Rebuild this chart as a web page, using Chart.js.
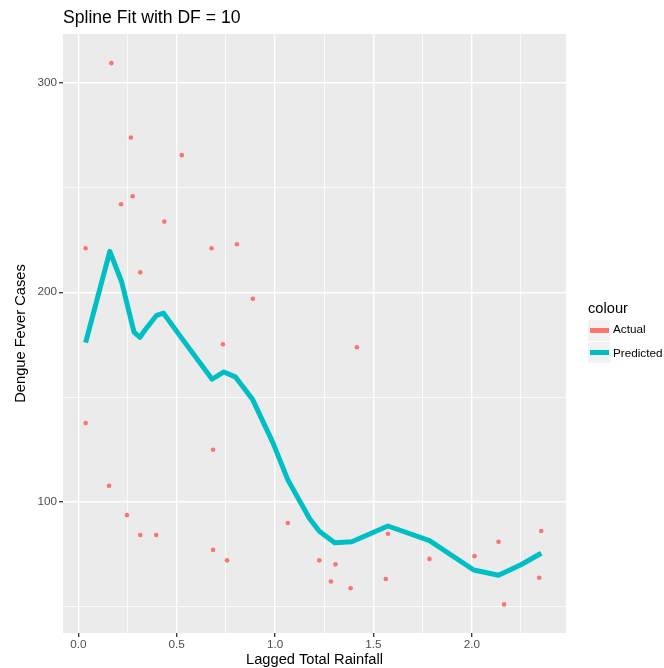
<!DOCTYPE html>
<html>
<head>
<meta charset="utf-8">
<script src="https://cdn.jsdelivr.net/npm/chart.js@4.4.1/dist/chart.umd.min.js"></script>
<style>
  html, body { margin: 0; padding: 0; background: #ffffff; }
  #wrap { position: relative; width: 664px; height: 668px; overflow: hidden; font-family: "Liberation Sans", Arial, sans-serif; }
  canvas { position: absolute; left: 0; top: 0; }
  .txt { position: absolute; white-space: nowrap; color: #000; }
  #title { left: 63px; top: 9px; font-size: 17.6px; line-height: 17.6px; }
  #legTitle { left: 588px; top: 300.6px; font-size: 14.67px; line-height: 14.67px; }
  .key { position: absolute; left: 588px; width: 22px; height: 21px; background: #F2F2F2; }
  .seg { position: absolute; left: 2px; width: 19px; height: 5px; top: 8px; }
  .lab { left: 613px; font-size: 11.73px; line-height: 11.73px; }
</style>
</head>
<body>
<div id="wrap">
  <canvas id="c" width="664" height="668"></canvas>
  <div class="txt" id="title">Spline Fit with DF = 10</div>
  <div class="txt" id="legTitle">colour</div>
  <div class="key" style="top:320px"><div class="seg" style="background:#F8766D"></div></div>
  <div class="key" style="top:342px"><div class="seg" style="background:#00BFC4"></div></div>
  <div class="txt lab" style="top:323.4px">Actual</div>
  <div class="txt lab" style="top:347.1px">Predicted</div>
</div>
<script>
// ---- data ----
const xActual = [0.168, 0.267, 0.526, 0.276, 0.217, 0.437, 0.037, 0.677, 0.806, 0.315, 0.887, 0.735, 0.037, 0.685, 0.156, 0.247, 0.315, 0.396, 0.685, 0.756, 1.065, 1.416, 1.225, 1.307, 1.284, 1.384, 1.574, 1.563, 1.785, 2.014, 2.136, 2.164, 2.353, 2.343];
const yActual = [309.3, 273.8, 265.4, 245.8, 242.0, 233.7, 221.0, 221.0, 222.9, 209.5, 196.9, 175.2, 137.6, 124.9, 107.7, 93.7, 84.2, 84.2, 77.1, 72.1, 89.9, 173.8, 72.1, 70.2, 62.0, 58.8, 84.8, 63.2, 72.8, 74.1, 81.0, 51.1, 86.1, 63.8];
const xPredicted = [0.037, 0.160, 0.220, 0.283, 0.313, 0.339, 0.398, 0.433, 0.526, 0.680, 0.740, 0.800, 0.885, 0.990, 1.065, 1.176, 1.225, 1.303, 1.390, 1.574, 1.785, 2.010, 2.136, 2.250, 2.353];
const yPredicted = [176, 219.5, 205, 181, 178.5, 182, 189, 190, 178, 158.5, 162, 159.5, 149, 128, 110.5, 92, 86, 80.5, 81, 88.5, 81.5, 67.5, 65, 70, 75.5];
const xTicks = [0, 0.25, 0.5, 0.75, 1.0, 1.25, 1.5, 1.75, 2.0, 2.25];
const xTickLabels = ["0.0", "", "0.5", "", "1.0", "", "1.5", "", "2.0", ""];
const yTicks = [50, 100, 150, 200, 250, 300];
const yTickLabels = ["", "100", "", "200", "", "300"];

const FONT = "'Liberation Sans', Arial, sans-serif";
const isMajorX = v => Math.abs((v / 0.5) - Math.round(v / 0.5)) < 1e-6;
const isMajorY = v => v % 100 === 0;

const panelBg = {
  id: 'panelBg',
  beforeDraw(chart) {
    const {ctx, chartArea: a} = chart;
    ctx.save();
    ctx.fillStyle = '#EBEBEB';
    ctx.fillRect(a.left, a.top, a.right - a.left, a.bottom - a.top);
    ctx.restore();
  }
};

new Chart(document.getElementById('c'), {
  type: 'scatter',
  data: {
    datasets: [
      {
        label: 'Predicted',
        data: xPredicted.map((x, i) => ({x, y: yPredicted[i]})),
        showLine: true,
        borderColor: '#00BFC4',
        borderWidth: 5,
        pointRadius: 0,
        tension: 0,
        borderJoinStyle: 'round',
        fill: false,
        order: 0
      },
      {
        label: 'Actual',
        data: xActual.map((x, i) => ({x, y: yActual[i]})),
        showLine: false,
        backgroundColor: '#F8766D',
        borderWidth: 0,
        pointRadius: 2.3,
        order: 1
      }
    ]
  },
  options: {
    responsive: false,
    animation: false,
    devicePixelRatio: 1,
    layout: { padding: { left: 0, right: 98, top: 34, bottom: 0 } },
    plugins: { legend: { display: false }, tooltip: { enabled: false }, title: { display: false } },
    scales: {
      x: {
        type: 'linear',
        min: -0.078,
        max: 2.479,
        afterBuildTicks: s => { s.ticks = xTicks.map(v => ({value: v})); },
        afterFit: s => { s.height = 35; },
        border: { display: false },
        grid: {
          color: '#FFFFFF',
          lineWidth: c => (c.tick && isMajorX(c.tick.value)) ? 1.4 : 0.8,
          tickColor: c => (c.tick && isMajorX(c.tick.value)) ? '#333333' : 'rgba(0,0,0,0)',
          tickLength: 4,
          tickWidth: 1.3
        },
        ticks: {
          autoSkip: false,
          maxRotation: 0,
          padding: 1,
          color: '#4D4D4D',
          font: { family: FONT, size: 11.73 },
          callback: (v) => { const i = xTicks.findIndex(t => Math.abs(t - v) < 1e-6); return i >= 0 ? xTickLabels[i] : ''; }
        },
        title: {
          display: true,
          text: 'Lagged Total Rainfall',
          color: '#000000',
          font: { family: FONT, size: 14.67, lineHeight: 1 },
          padding: { top: 0, bottom: 0.5 }
        }
      },
      y: {
        type: 'linear',
        min: 37.45,
        max: 323.2,
        afterBuildTicks: s => { s.ticks = yTicks.map(v => ({value: v})); },
        afterFit: s => { s.width = 63; },
        border: { display: false },
        grid: {
          color: '#FFFFFF',
          lineWidth: c => (c.tick && isMajorY(c.tick.value)) ? 1.4 : 0.8,
          tickColor: c => (c.tick && isMajorY(c.tick.value)) ? '#333333' : 'rgba(0,0,0,0)',
          tickLength: 4,
          tickWidth: 1.3
        },
        ticks: {
          autoSkip: false,
          padding: 2,
          color: '#4D4D4D',
          font: { family: FONT, size: 11.73 },
          callback: (v) => { const i = yTicks.indexOf(v); return i >= 0 ? yTickLabels[i] : ''; }
        },
        title: {
          display: true,
          text: 'Dengue Fever Cases',
          color: '#000000',
          font: { family: FONT, size: 14.67, lineHeight: 1 },
          padding: { top: 13.7, bottom: 0 }
        }
      }
    }
  },
  plugins: [panelBg]
});
</script>
</body>
</html>
